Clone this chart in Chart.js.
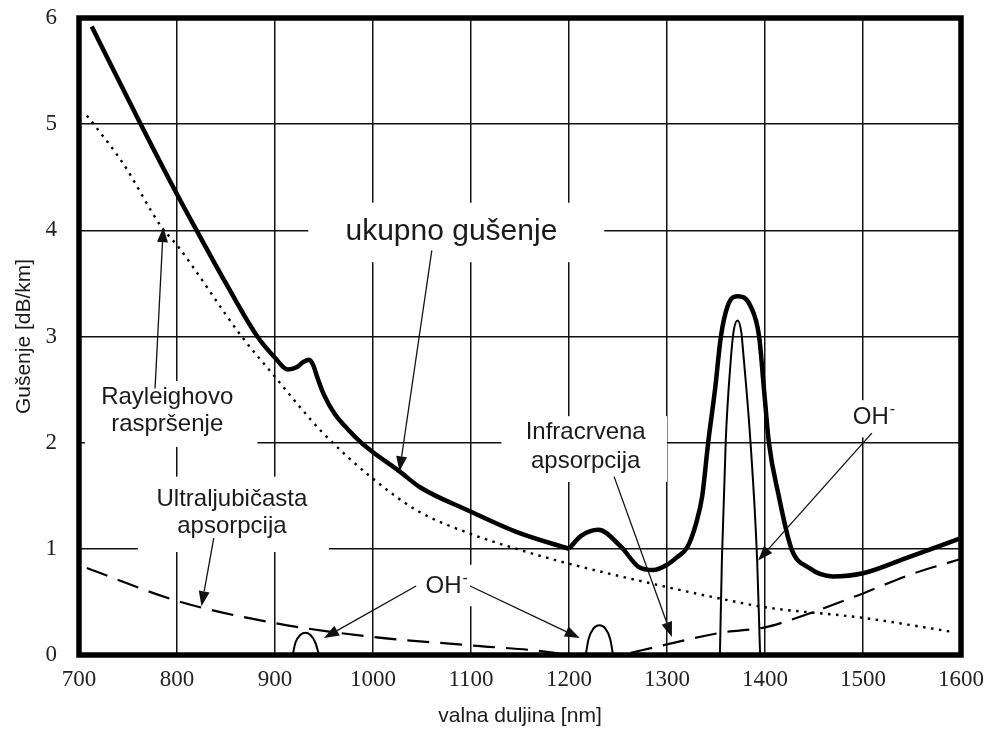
<!DOCTYPE html>
<html><head><meta charset="utf-8">
<script src="https://cdn.jsdelivr.net/npm/chart.js@4"></script>
<style>html,body{margin:0;padding:0;background:#fff}</style>
</head><body>
<canvas id="c" width="989" height="729" style="width:989px;height:729px;display:block"></canvas>
<script>
// ---- axis ranges / ticks ----
const X_MIN = 700, X_MAX = 1600, X_STEP = 100;
const Y_MIN = 0, Y_MAX = 6, Y_STEP = 1;
const X_TITLE = 'valna duljina [nm]';
const Y_TITLE = 'Gušenje [dB/km]';

// ---- series (wavelength nm, attenuation dB/km) ----
const totalLeft = [[713,5.92],[763,5.0],[800,4.34],[820,4.0],[850,3.5],[882,3.0],[900,2.80],[913,2.69],[922,2.71],[929,2.76],[935,2.78],[939,2.73],[943,2.62],[950,2.45],[961,2.27],[975,2.12],[988,2.0],[1000,1.91],[1027,1.73],[1048,1.58],[1100,1.35],[1149,1.15],[1200,1.0]];
const totalRight = [[1200,1.0],[1212,1.12],[1230,1.18],[1253,1.02],[1271,0.83],[1286,0.80],[1300,0.85],[1310,0.92],[1321,1.02],[1330,1.25],[1336,1.5],[1342,2.0],[1349,2.5],[1355,3.0],[1362,3.29],[1372,3.38],[1385,3.29],[1394,3.0],[1399,2.5],[1404,2.0],[1414,1.5],[1427,1.0],[1445,0.82],[1469,0.74],[1500,0.77],[1546,0.92],[1600,1.10]];
const rayleigh = [[708,5.08],[715,5.0],[745,4.63],[785,4.02],[800,3.86],[866,3.0],[900,2.62],[926,2.33],[948,2.10],[1000,1.66],[1047,1.35],[1100,1.14],[1150,0.99],[1200,0.86],[1300,0.64],[1355,0.53],[1400,0.45],[1500,0.35],[1590,0.22]];
const ultraviolet = [[708,0.82],[800,0.51],[900,0.30],[1000,0.17],[1100,0.09],[1185,0.02],[1195,0.0]];
const infrared = [[1263,0.02],[1300,0.10],[1355,0.21],[1400,0.26],[1416,0.30],[1500,0.58],[1546,0.75],[1598,0.90]];
const ohPeak1 = [[918,0],[921,0.12],[926,0.19],[931,0.21],[936,0.19],[941,0.12],[945,0]];
const ohPeak2 = [[1217,0],[1220,0.15],[1225,0.25],[1231,0.28],[1237,0.25],[1242,0.15],[1245,0]];
const ohPeak3 = [[1354,0],[1356,0.89],[1360,2.03],[1365,2.77],[1368,3.05],[1372,3.15],[1376,3.03],[1377,2.93],[1385,2.03],[1392,0.89],[1395,0]];

// ---- annotations (data coordinates) ----
const textLabels = [
  {lines:['ukupno gušenje'], x:1080, y:[3.91], size:30, box:[934,1236,4.26,3.70]},
  {lines:['Rayleighovo','raspršenje'], x:790, y:[2.36,2.11], size:24, box:[706,882,2.58,1.96]},
  {lines:['Ultraljubičasta','apsorpcija'], x:856, y:[1.40,1.15], size:24, box:[760,955,1.68,0.97]},
  {lines:['Infracrvena','apsorpcija'], x:1217, y:[2.03,1.76], size:24, box:[1131,1300,2.25,1.63]},
  {lines:['OH'], sup:'-', x:1072, y:[0.58], size:24, box:[1047,1117,0.85,0.46]},
  {lines:['OH'], sup:'-', x:1508, y:[2.18], size:24, box:[1477,1543,2.40,2.05]}
];
const arrows = [
  [1060,3.81,1027,1.73],
  [777.6,2.51,786,4.03],
  [837.5,1.10,825,0.46],
  [1044,0.65,950,0.16],
  [1099,0.65,1211,0.16],
  [1246,1.68,1305,0.17],
  [1509,2.09,1393,0.89]
];

const toXY = arr => arr.map(p => ({x:p[0], y:p[1]}));
const base = {showLine:true, pointRadius:0, borderColor:'#000', cubicInterpolationMode:'monotone', fill:false};

const annotPlugin = {
  id:'annot',
  beforeDatasetsDraw(chart){
    const {ctx, scales:{x, y}} = chart;
    ctx.save();
    ctx.fillStyle = '#fff';
    textLabels.forEach(t => {
      const x1 = x.getPixelForValue(t.box[0]), x2 = x.getPixelForValue(t.box[1]);
      const y1 = y.getPixelForValue(t.box[2]), y2 = y.getPixelForValue(t.box[3]);
      ctx.fillRect(x1, y1, x2-x1, y2-y1);
    });
    ctx.restore();
  },
  afterDatasetsDraw(chart){
    const {ctx, scales:{x, y}} = chart;
    ctx.save();
    ctx.strokeStyle = '#111'; ctx.fillStyle = '#111'; ctx.lineWidth = 1.3;
    arrows.forEach(a => {
      const sx = x.getPixelForValue(a[0]), sy = y.getPixelForValue(a[1]);
      const ex = x.getPixelForValue(a[2]), ey = y.getPixelForValue(a[3]);
      const ang = Math.atan2(ey-sy, ex-sx);
      const L = 15, W = 5.5;
      const bx = ex - L*Math.cos(ang), by = ey - L*Math.sin(ang);
      ctx.beginPath(); ctx.moveTo(sx, sy); ctx.lineTo(bx, by); ctx.stroke();
      ctx.beginPath();
      ctx.moveTo(ex, ey);
      ctx.lineTo(bx + W*Math.sin(ang), by - W*Math.cos(ang));
      ctx.lineTo(bx - W*Math.sin(ang), by + W*Math.cos(ang));
      ctx.closePath(); ctx.fill();
    });
    ctx.fillStyle = '#1a1a1a';
    ctx.textAlign = 'center'; ctx.textBaseline = 'alphabetic';
    textLabels.forEach(t => {
      ctx.font = t.size + 'px "Liberation Sans", Arial, sans-serif';
      const px = x.getPixelForValue(t.x);
      t.lines.forEach((ln, i) => {
        const py = y.getPixelForValue(t.y[i]);
        ctx.fillText(ln, px, py);
        if (t.sup) {
          const w = ctx.measureText(ln).width;
          ctx.save();
          ctx.font = '16px "Liberation Sans", Arial, sans-serif';
          ctx.textAlign = 'left';
          ctx.fillText(t.sup, px + w/2 + 1, py - 10);
          ctx.restore();
        }
      });
    });
    ctx.restore();
  },
  afterDraw(chart){
    const {ctx, chartArea:a} = chart;
    ctx.save();
    ctx.strokeStyle = '#000'; ctx.lineWidth = 5.5;
    ctx.strokeRect(a.left, a.top, a.right-a.left, a.bottom-a.top);
    ctx.restore();
  }
};

new Chart(document.getElementById('c'), {
  type:'scatter',
  data:{datasets:[
    {...base, data:toXY(totalLeft), borderWidth:4.5},
    {...base, data:toXY(totalRight), borderWidth:4.5},
    {...base, data:toXY(rayleigh), borderWidth:2.4, borderDash:[2.5,5.5]},
    {...base, data:toXY(ultraviolet), borderWidth:2.2, borderDash:[22,11]},
    {...base, data:toXY(infrared), borderWidth:2.2, borderDash:[22,11]},
    {...base, data:toXY(ohPeak1), borderWidth:2},
    {...base, data:toXY(ohPeak2), borderWidth:2},
    {...base, data:toXY(ohPeak3), borderWidth:2}
  ]},
  options:{
    responsive:false, devicePixelRatio:1, animation:false,
    layout:{padding:{top:18, right:28, left:0, bottom:0}},
    plugins:{legend:{display:false}, tooltip:{enabled:false}},
    scales:{
      x:{type:'linear', min:X_MIN, max:X_MAX,
        afterFit(s){ s.height = 74; s.paddingLeft = 0; s.paddingRight = 0; },
        ticks:{stepSize:X_STEP, padding:11, color:'#222', callback:v => String(v), font:{family:'"Liberation Serif", "Times New Roman", serif', size:23}},
        grid:{color:'#111', lineWidth:1.5, drawTicks:false},
        border:{display:false},
        title:{display:true, text:X_TITLE, color:'#1a1a1a', padding:{top:0,bottom:0}, font:{family:'"Liberation Sans", Arial, sans-serif', size:21}}
      },
      y:{type:'linear', min:Y_MIN, max:Y_MAX,
        afterFit(s){ s.width = 79; s.paddingTop = 0; s.paddingBottom = 0; },
        ticks:{stepSize:Y_STEP, padding:22, color:'#222', callback:v => String(v), font:{family:'"Liberation Serif", "Times New Roman", serif', size:23}},
        grid:{color:'#111', lineWidth:1.5, drawTicks:false},
        border:{display:false},
        title:{display:true, text:Y_TITLE, color:'#1a1a1a', padding:{top:12,bottom:0}, font:{family:'"Liberation Sans", Arial, sans-serif', size:21}}
      }
    }
  },
  plugins:[annotPlugin]
});
</script>
</body></html>
